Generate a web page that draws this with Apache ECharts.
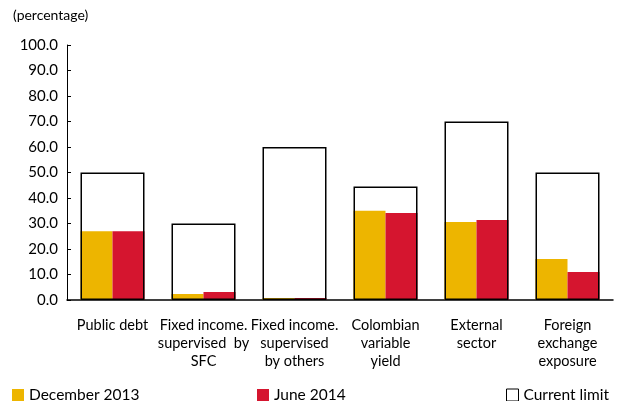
<!DOCTYPE html>
<html>
<head>
<meta charset="utf-8">
<script src="https://cdn.jsdelivr.net/npm/echarts@6/dist/echarts.min.js"></script>
<style>
  html, body { margin: 0; padding: 0; background: #fff; }
  #chart { width: 619px; height: 401px; }
</style>
</head>
<body>
<div id="chart"></div>
<script>
// Portfolio investment regime: usage vs. current limits (percentage)
const categories = [
  'Public debt',
  'Fixed income.\nsupervised  by\nSFC',
  'Fixed income.\nsupervised\nby others',
  'Colombian\nvariable\nyield',
  'External\nsector',
  'Foreign\nexchange\nexposure'
];
const december2013 = [27.0, 2.4, 0.8, 35.0, 30.6, 16.1];
const june2014 = [27.0, 3.1, 0.8, 34.1, 31.4, 11.0];
const currentLimit = [50.0, 30.0, 60.0, 44.5, 70.0, 50.0];
const yTicks = { min: 0, max: 100, step: 10 };

const FONT = 'Lato';
const chart = echarts.init(document.getElementById('chart'));

const legendText = { fontFamily: FONT, fontSize: 15.5, color: '#000' };

chart.setOption({
  animation: false,
  textStyle: { fontFamily: FONT, color: '#000' },
  title: {
    text: '(percentage)',
    left: 8,
    top: 3,
    textStyle: { fontFamily: FONT, fontSize: 14, fontWeight: 'normal', color: '#000' }
  },
  legend: [
    {
      data: [{ name: 'December 2013', icon: 'rect' }], left: 7, top: 382,
      itemWidth: 12, itemHeight: 12, itemGap: 0, textStyle: legendText
    },
    {
      data: [{ name: 'June 2014', icon: 'rect' }], left: 252, top: 382,
      itemWidth: 12, itemHeight: 12, itemGap: 0, textStyle: legendText
    },
    {
      data: [{
        name: 'Current limit', icon: 'rect',
        itemStyle: { color: '#fff', borderColor: '#000', borderWidth: 1 }
      }], left: 501, top: 382,
      itemWidth: 12, itemHeight: 12, itemGap: 0, textStyle: legendText
    }
  ],
  grid: { left: 67, right: 6, top: 45, bottom: 101, containLabel: false },
  xAxis: [
    {
      type: 'category',
      data: categories,
      axisLine: { lineStyle: { color: '#000', width: 1.5 } },
      axisTick: { show: false },
      axisLabel: {
        interval: 0, fontFamily: FONT, fontSize: 14.5, color: '#000',
        lineHeight: 18, margin: 16
      }
    },
    {
      type: 'category',
      data: categories,
      show: false,
      position: 'bottom'
    }
  ],
  yAxis: {
    type: 'value',
    min: yTicks.min,
    max: yTicks.max,
    interval: yTicks.step,
    axisLine: { show: true, lineStyle: { color: '#000', width: 1 } },
    axisTick: { show: true, inside: true, length: 4, lineStyle: { color: '#000' } },
    splitLine: { show: false },
    axisLabel: {
      fontFamily: FONT, fontSize: 15, color: '#000', margin: 9,
      formatter: v => v.toFixed(1)
    }
  },
  series: [
    {
      name: 'December 2013',
      type: 'bar',
      xAxisIndex: 0,
      data: december2013,
      barWidth: 32,
      barGap: '0%',
      itemStyle: { color: '#EDB500' },
      z: 2
    },
    {
      name: 'June 2014',
      type: 'bar',
      xAxisIndex: 0,
      data: june2014,
      barWidth: 32,
      barGap: '0%',
      itemStyle: { color: '#D5152F' },
      z: 2
    },
    {
      name: 'Current limit',
      type: 'bar',
      xAxisIndex: 1,
      data: currentLimit,
      barWidth: 64,
      itemStyle: { color: 'rgba(255,255,255,0)', borderColor: '#000', borderWidth: 1.5 },
      z: 3
    }
  ]
});
</script>
</body>
</html>
